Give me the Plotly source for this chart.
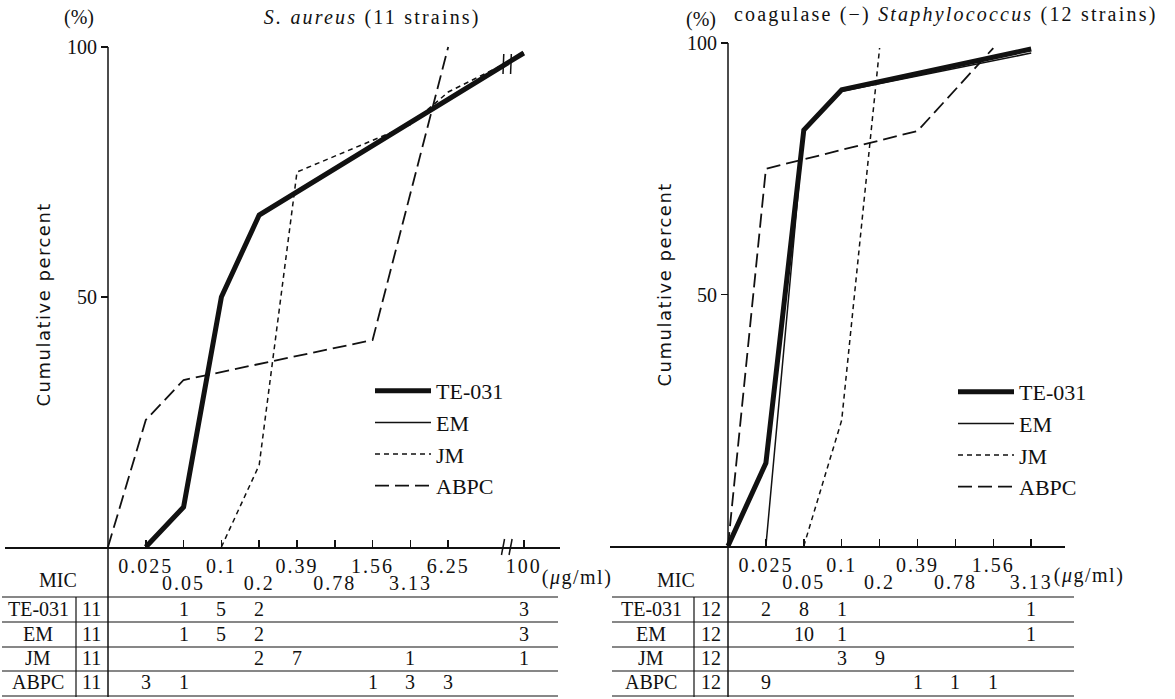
import plotly.graph_objects as go

W, H = 1175, 699
SERIF = "Liberation Serif"
SANS = "DejaVu Sans"
INK = "#111111"

# ---------------- data ----------------
drugs = ["TE-031", "EM", "JM", "ABPC"]

# MIC scale: positions are doubling steps (0 = origin of the axis)
sa_upper_pos = [1, 3, 5, 7, 9, 11]
sa_upper_lab = ["0.025", "0.1", "0.39", "1.56", "6.25", "100"]
sa_lower_pos = [2, 4, 6, 8]
sa_lower_lab = ["0.05", "0.2", "0.78", "3.13"]

cn_upper_pos = [1, 3, 5, 7]
cn_upper_lab = ["0.025", "0.1", "0.39", "1.56"]
cn_lower_pos = [2, 4, 6, 8]
cn_lower_lab = ["0.05", "0.2", "0.78", "3.13"]

# S. aureus cumulative curves
sa_te031_x = [1, 2, 3, 4, 11]
sa_te031_y = [0, 8, 50, 66.4, 98.8]
sa_em_x = [1, 2, 3, 4, 11]
sa_em_y = [0, 8, 50, 66.4, 98.8]
sa_jm_x = [3, 4, 5, 8, 9, 11]
sa_jm_y = [0, 16.4, 75, 84.5, 91, 98.5]
sa_abpc_x = [0, 1, 2, 7, 9]
sa_abpc_y = [0, 25.4, 33.4, 41.4, 100]

# coagulase (-) Staphylococcus cumulative curves
cn_te031_x = [0, 1, 2, 3, 8]
cn_te031_y = [0, 16.5, 82.7, 90.7, 98.8]
cn_em_x = [1, 2, 3, 8]
cn_em_y = [0, 82.5, 90.4, 98.0]
cn_jm_x = [2, 3, 4]
cn_jm_y = [0, 25, 99]
cn_abpc_x = [0, 1, 5, 7]
cn_abpc_y = [0, 75, 82.5, 99]

# table counts (MIC position, number of strains)
sa_n = [11, 11, 11, 11]
sa_cnt_pos = [[2, 3, 4, 11], [2, 3, 4, 11], [4, 5, 8, 11], [1, 2, 7, 8, 9]]
sa_cnt_val = [[1, 5, 2, 3], [1, 5, 2, 3], [2, 7, 1, 1], [3, 1, 1, 3, 3]]
cn_n = [12, 12, 12, 12]
cn_cnt_pos = [[1, 2, 3, 8], [2, 3, 8], [3, 4], [1, 5, 6, 7]]
cn_cnt_val = [[2, 8, 1, 1], [10, 1, 1], [3, 9], [9, 1, 1, 1]]

styles = {
    "TE-031": dict(width=5, dash="solid"),
    "EM": dict(width=1.5, dash="solid"),
    "JM": dict(width=1.5, dash="5px,4px"),
    "ABPC": dict(width=1.8, dash="14px,6px"),
}

# --------------- geometry (pixels) ---------------
def px(x):
    return x / W

def py(y):
    return 1 - y / H

SA_X0, SA_STEP = 108, 37.8       # origin pixel and step of left MIC axis
CN_X0, CN_STEP = 728, 37.9
SA_Y0, SA_YS = 547, 5.0          # pixel of 0 %, pixels per %
CN_Y0, CN_YS = 546, 5.03

fig = go.Figure()

sa_series = [(sa_te031_x, sa_te031_y), (sa_em_x, sa_em_y), (sa_jm_x, sa_jm_y), (sa_abpc_x, sa_abpc_y)]
cn_series = [(cn_te031_x, cn_te031_y), (cn_em_x, cn_em_y), (cn_jm_x, cn_jm_y), (cn_abpc_x, cn_abpc_y)]

# draw EM first so TE-031 sits on top where they overlap
order = [1, 0, 2, 3]
for i in order:
    d = drugs[i]
    fig.add_trace(go.Scatter(x=sa_series[i][0], y=sa_series[i][1], mode="lines", name=d,
                             line=dict(color=INK, **styles[d]), xaxis="x", yaxis="y",
                             legend="legend", legendrank=i, hoverinfo="skip"))
for i in order:
    d = drugs[i]
    fig.add_trace(go.Scatter(x=cn_series[i][0], y=cn_series[i][1], mode="lines", name=d,
                             line=dict(color=INK, **styles[d]), xaxis="x2", yaxis="y2",
                             legend="legend2", legendrank=i, hoverinfo="skip"))
# anchors for the lower rows of tick labels
fig.add_trace(go.Scatter(x=[None], y=[None], xaxis="x3", yaxis="y", showlegend=False, hoverinfo="skip"))
fig.add_trace(go.Scatter(x=[None], y=[None], xaxis="x4", yaxis="y2", showlegend=False, hoverinfo="skip"))

tickfont = dict(family=SERIF, size=20, color=INK)
sa_dom = [px(5), px(560)]
sa_rng = [(5 - SA_X0) / SA_STEP, (560 - SA_X0) / SA_STEP]
cn_dom = [px(610), px(1065)]
cn_rng = [(610 - CN_X0) / CN_STEP, (1065 - CN_X0) / CN_STEP]

LOWER = 22
common_x = dict(showgrid=False, zeroline=False, fixedrange=True)
fig.update_layout(
    xaxis=dict(domain=sa_dom, range=sa_rng, anchor="free", position=py(SA_Y0),
               showline=True, linecolor=INK, linewidth=1.5, ticks="inside", ticklen=7,
               tickwidth=1.5, tickcolor=INK,
               tickvals=sa_upper_pos + sa_lower_pos,
               ticktext=sa_upper_lab + [""] * len(sa_lower_pos),
               tickfont=tickfont, **common_x),
    xaxis3=dict(domain=sa_dom, range=sa_rng, anchor="free", overlaying="x",
                position=py(SA_Y0 + LOWER), showline=False, ticks="",
                tickvals=sa_lower_pos, ticktext=sa_lower_lab, tickfont=tickfont, **common_x),
    xaxis2=dict(domain=cn_dom, range=cn_rng, anchor="free", position=py(CN_Y0),
                showline=True, linecolor=INK, linewidth=1.5, ticks="inside", ticklen=7,
                tickwidth=1.5, tickcolor=INK,
                tickvals=cn_upper_pos + cn_lower_pos,
                ticktext=cn_upper_lab + [""] * len(cn_lower_pos),
                tickfont=tickfont, **common_x),
    xaxis4=dict(domain=cn_dom, range=cn_rng, anchor="free", overlaying="x2",
                position=py(CN_Y0 + LOWER), showline=False, ticks="",
                tickvals=cn_lower_pos, ticktext=cn_lower_lab, tickfont=tickfont, **common_x),
    yaxis=dict(domain=[0, 1], range=[(SA_Y0 - H) / SA_YS, SA_Y0 / SA_YS], anchor="free",
               position=px(SA_X0), showline=False, ticks="outside", ticklen=7, tickwidth=1.5,
               tickcolor=INK, tickvals=[50, 100], ticktext=["50", "100"], tickfont=tickfont,
               showgrid=False, zeroline=False, fixedrange=True),
    yaxis2=dict(domain=[0, 1], range=[(CN_Y0 - H) / CN_YS, CN_Y0 / CN_YS], anchor="free",
                position=px(CN_X0), showline=False, ticks="outside", ticklen=7, tickwidth=1.5,
                tickcolor=INK, tickvals=[50, 100], ticktext=["50", "100"], tickfont=tickfont,
                showgrid=False, zeroline=False, fixedrange=True),
)

legend_common = dict(xanchor="left", yanchor="top", bgcolor="rgba(0,0,0,0)",
                     font=dict(family=SERIF, size=22, color=INK), itemwidth=56,
                     traceorder="normal", tracegroupgap=0)
fig.update_layout(
    legend=dict(x=px(370), y=py(370), **legend_common),
    legend2=dict(x=px(953), y=py(371), **legend_common),
)

# --------------- shapes: axis lines, break marks, table rules ---------------
shapes = []
def seg(x0, y0, x1, y1, w=1.5):
    shapes.append(dict(type="line", xref="paper", yref="paper", x0=px(x0), y0=py(y0),
                       x1=px(x1), y1=py(y1), line=dict(color=INK, width=w)))

# vertical axis lines continuing down as table dividers
seg(SA_X0, SA_Y0 - 100 * SA_YS, SA_X0, 697)
seg(CN_X0, CN_Y0 - 100 * CN_YS, CN_X0, 697)
seg(76, 597, 76, 697, 1.2)
seg(694, 597, 694, 697, 1.2)
# table horizontal rules
for yy in [597, 622, 647, 671, 696]:
    seg(2, yy, 558, yy, 1.2)
    seg(612, yy, 1074, yy, 1.2)

# axis break marks (x axis) and curve break marks, in data coordinates
for xb in [10.45, 10.65]:
    shapes.append(dict(type="line", xref="x", yref="y", x0=xb - 0.04, y0=-1.6, x1=xb + 0.04, y1=1.6,
                       line=dict(color=INK, width=1.5)))
    shapes.append(dict(type="line", xref="x", yref="y", x0=xb, y0=94.6, x1=xb + 0.02, y1=98.6,
                       line=dict(color=INK, width=1.5)))
fig.update_layout(shapes=shapes)

# --------------- annotations ---------------
ann = []
def text(x, y, s, size=20, family=SERIF, xanchor="center", angle=0, xref="paper"):
    ann.append(dict(x=x if xref != "paper" else px(x), y=py(y), xref=xref, yref="paper",
                    text=s, showarrow=False, xanchor=xanchor, yanchor="middle",
                    textangle=angle, font=dict(family=family, size=size, color=INK)))

# titles and labels (indices 0..5 get letter spacing below)
text(372, 17, "<i>S. aureus</i> (11 strains)")
text(945, 15, "coagulase (−) <i>Staphylococcus</i> (12 strains)")
text(43, 305, "Cumulative percent", size=18, family=SANS, angle=-90)
text(664, 285, "Cumulative percent", size=18, family=SANS, angle=-90)
text(577, 577, "(<i>μ</i>g/ml)")
text(1089, 575, "(<i>μ</i>g/ml)")
text(79, 17, "(%)")
text(701, 20, "(%)")
# table header
text(58, 580, "MIC")
text(676, 580, "MIC")

row_y = [609, 634, 658, 682]
for r, d in enumerate(drugs):
    text(38, row_y[r], d)
    text(92, row_y[r], str(sa_n[r]))
    text(651, row_y[r], d)
    text(711, row_y[r], str(cn_n[r]))
    for p, v in zip(sa_cnt_pos[r], sa_cnt_val[r]):
        text(p, row_y[r], str(v), xref="x")
    for p, v in zip(cn_cnt_pos[r], cn_cnt_val[r]):
        text(p, row_y[r], str(v), xref="x2")

fig.update_layout(annotations=ann)

fig.update_layout(width=W, height=H, margin=dict(l=0, r=0, t=0, b=0),
                  paper_bgcolor="white", plot_bgcolor="rgba(0,0,0,0)",
                  font=dict(family=SERIF, color=INK), showlegend=True)

post = """
document.body.style.margin='0';document.body.style.overflow='hidden';
function spaceText(){
  document.querySelectorAll('g.xtick text, g.x2tick text, g.x3tick text, g.x4tick text, .xaxislayer-above text').forEach(function(t){t.style.letterSpacing='2px';});
  var sp = {0:'2.2px', 1:'2.2px', 2:'1.5px', 3:'1.5px', 4:'1.5px', 5:'1.5px'};
  document.querySelectorAll('g.annotation').forEach(function(a){
    var i = a.getAttribute('data-index');
    if (sp[i] !== undefined) {
      a.querySelectorAll('text').forEach(function(t){t.style.letterSpacing = sp[i];});
    }
  });
}
spaceText(); setTimeout(spaceText, 30); setTimeout(spaceText, 200);
"""
fig.write_html("out.html", config={"displayModeBar": False, "staticPlot": True},
               post_script=post)
